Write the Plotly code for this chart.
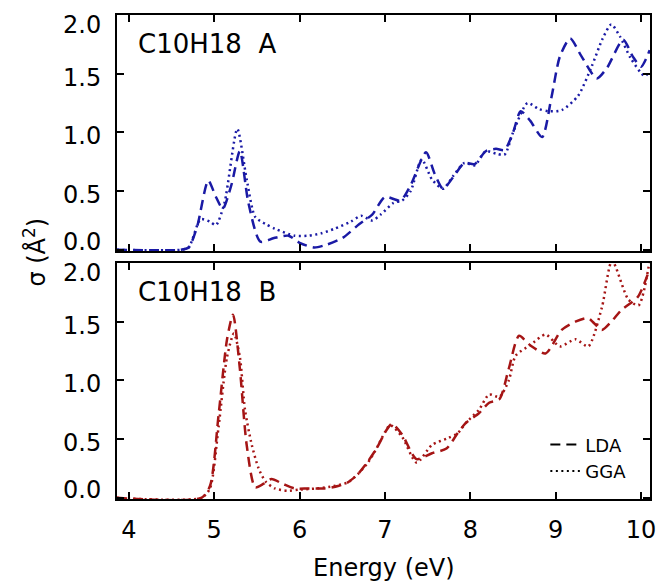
import plotly.graph_objects as go

# ---- Data ----
# Panel A (top, blue)
eA_lda = [3.86, 4.6, 4.7, 4.8, 4.93, 5.02, 5.1, 5.2, 5.3, 5.4, 5.54, 5.7, 5.87, 6.0, 6.17, 6.3, 6.5,
          6.7, 6.85, 7.0, 7.18, 7.3, 7.48, 7.58, 7.68, 7.8, 7.93, 8.05, 8.18, 8.3, 8.4, 8.5, 8.59,
          8.7, 8.84, 8.95, 9.05, 9.17, 9.3, 9.48, 9.6, 9.79, 9.9, 10.0, 10.1]
sA_lda = [0, 0, 0.02, 0.2, 0.59, 0.45, 0.35, 0.55, 0.84, 0.4, 0.07, 0.1, 0.12, 0.06, 0.02, 0.04, 0.1,
          0.22, 0.3, 0.45, 0.42, 0.55, 0.83, 0.65, 0.52, 0.62, 0.74, 0.73, 0.84, 0.86, 0.85, 1.0, 1.18,
          1.1, 0.96, 1.3, 1.65, 1.80, 1.65, 1.46, 1.55, 1.79, 1.65, 1.56, 1.70]

eA_gga = [3.86, 4.6, 4.7, 4.84, 4.95, 5.02, 5.12, 5.27, 5.38, 5.48, 5.6, 5.71, 5.94, 6.1, 6.25, 6.41,
          6.6, 6.72, 6.85, 6.95, 7.1, 7.2, 7.3, 7.43, 7.55, 7.68, 7.8, 7.93, 8.05, 8.18, 8.3, 8.4, 8.5,
          8.67, 8.8, 8.92, 9.07, 9.26, 9.42, 9.55, 9.65, 9.75, 9.88, 10.04, 10.1]
sA_gga = [0, 0, 0.02, 0.26, 0.24, 0.21, 0.4, 1.03, 0.6, 0.28, 0.22, 0.18, 0.12, 0.12, 0.14, 0.18,
          0.24, 0.29, 0.25, 0.3, 0.4, 0.42, 0.5, 0.77, 0.6, 0.52, 0.63, 0.74, 0.72, 0.84, 0.82, 0.81, 1.0,
          1.25, 1.2, 1.18, 1.19, 1.31, 1.56, 1.8, 1.92, 1.82, 1.63, 1.48, 1.52]

# Panel B (bottom, red)
eB_lda = [3.86, 4.85, 4.95, 5.05, 5.15, 5.22, 5.3, 5.38, 5.48, 5.58, 5.67, 5.8, 5.94, 6.1, 6.29, 6.45,
          6.56, 6.68, 6.79, 6.9, 7.02, 7.08, 7.2, 7.37, 7.55, 7.72, 7.85, 7.95, 8.1, 8.22, 8.34, 8.45,
          8.57, 8.7, 8.88, 9.07, 9.23, 9.38, 9.54, 9.65, 9.77, 9.96, 10.1]
sB_lda = [0, 0, 0.1, 0.7, 1.35, 1.56, 1.1, 0.45, 0.09, 0.12, 0.16, 0.12, 0.08, 0.08, 0.08, 0.1,
          0.13, 0.2, 0.3, 0.42, 0.58, 0.63, 0.54, 0.33, 0.38, 0.42, 0.55, 0.64, 0.72, 0.81, 0.84, 1.1,
          1.38, 1.3, 1.23, 1.43, 1.50, 1.53, 1.43, 1.5, 1.6, 1.71, 1.95]

eB_gga = [3.86, 4.85, 4.95, 5.05, 5.15, 5.23, 5.3, 5.36, 5.44, 5.52, 5.6, 5.71, 5.86, 6.0, 6.2, 6.4,
          6.56, 6.68, 6.8, 6.9, 7.0, 7.06, 7.2, 7.37, 7.55, 7.74, 7.85, 7.95, 8.1, 8.22, 8.34, 8.45,
          8.53, 8.7, 8.88, 9.05, 9.23, 9.38, 9.54, 9.66, 9.85, 9.97, 10.1]
sB_gga = [0, 0, 0.08, 0.6, 1.2, 1.40, 1.2, 0.75, 0.45, 0.25, 0.14, 0.08, 0.06, 0.07, 0.08, 0.1,
          0.13, 0.2, 0.3, 0.42, 0.56, 0.62, 0.52, 0.30, 0.45, 0.51, 0.55, 0.64, 0.75, 0.88, 0.86, 1.0,
          1.21, 1.3, 1.39, 1.29, 1.35, 1.29, 1.62, 2.02, 1.69, 1.64, 2.02]

panel_labels = ["C10H18  A", "C10H18  B"]
legend_names = ["LDA", "GGA"]
x_ticks = [4, 5, 6, 7, 8, 9, 10]
y_ticks = [0.0, 0.5, 1.0, 1.5, 2.0]

BLUE = "#1a1aa5"
RED = "#a51515"
DASH = "10px,6px"
DOT = "2px,3.5px"
FONT = "DejaVu Sans"
LW = 2.5

fig = go.Figure()

def add(e, s, color, dash, xa, ya):
    fig.add_trace(go.Scatter(x=e, y=s, mode="lines", xaxis=xa, yaxis=ya, showlegend=False,
                             line=dict(color=color, dash=dash, width=LW, shape="spline", smoothing=0.7),
                             hoverinfo="skip"))

add(eA_lda, sA_lda, BLUE, DASH, "x2", "y2")
add(eA_gga, sA_gga, BLUE, DOT, "x2", "y2")
add(eB_lda, sB_lda, RED, DASH, "x", "y")
add(eB_gga, sB_gga, RED, DOT, "x", "y")

# legend entries (black samples)
for name, dash in zip(legend_names, [DASH, DOT]):
    fig.add_trace(go.Scatter(x=[None], y=[None], mode="lines", name=name, xaxis="x", yaxis="y",
                             line=dict(color="black", dash=dash, width=2)))

xr = [3.861, 10.104]
yr = [-0.01, 2.0]
axis_common = dict(showline=True, linecolor="black", linewidth=2, mirror="ticks", ticks="inside",
                   ticklen=7, tickwidth=2, tickcolor="black", showgrid=False, zeroline=False,
                   tickfont=dict(family=FONT, size=24, color="black"))

fig.update_layout(
    width=663, height=582,
    margin=dict(l=117, r=7, t=15, b=83),
    paper_bgcolor="white", plot_bgcolor="white",
    xaxis=dict(domain=[0, 1], range=xr, tickvals=x_ticks, ticklabelstandoff=8, anchor="y", **axis_common),
    xaxis2=dict(domain=[0, 1], range=xr, tickvals=x_ticks, showticklabels=False, anchor="y2",
                matches="x", **axis_common),
    yaxis=dict(domain=[0, 0.4876], range=yr, tickvals=y_ticks, showticklabels=False, anchor="x",
               **axis_common),
    yaxis2=dict(domain=[0.5124, 1], range=yr, tickvals=y_ticks, showticklabels=False, anchor="x2",
                **axis_common),
    showlegend=True,
    legend=dict(x=0.965, y=0.02, xanchor="right", yanchor="bottom", bgcolor="rgba(0,0,0,0)",
                font=dict(family=FONT, size=18, color="black"), tracegroupgap=0, itemwidth=30),
    font=dict(family=FONT, color="black"),
)

# y tick labels (end labels nudged inward as in the reference)
for yref in ["y", "y2"]:
    for v in y_ticks:
        if v == y_ticks[0]:
            shift = 8
        elif v == y_ticks[-1]:
            shift = -10
        else:
            shift = -4
        fig.add_annotation(text=f"{v:.1f}", xref="paper", yref=yref, x=-0.026, y=v,
                           xanchor="right", yanchor="middle", yshift=shift, showarrow=False,
                           font=dict(family=FONT, size=24, color="black"))

fig.add_annotation(text=panel_labels[0], xref="paper", yref="paper", x=0.035, y=0.94,
                   xanchor="left", yanchor="middle", showarrow=False,
                   font=dict(family=FONT, size=26, color="black"))
fig.add_annotation(text=panel_labels[1], xref="paper", yref="paper", x=0.035, y=0.427,
                   xanchor="left", yanchor="middle", showarrow=False,
                   font=dict(family=FONT, size=26, color="black"))
fig.add_annotation(text="σ (Å<sup>2</sup>)", xref="paper", yref="paper", x=-0.153, y=0.51,
                   xanchor="center", yanchor="middle", textangle=-90, showarrow=False,
                   font=dict(family=FONT, size=24, color="black"))
fig.add_annotation(text="Energy (eV)", xref="paper", yref="paper", x=0.5, y=-0.143,
                   xanchor="center", yanchor="middle", showarrow=False,
                   font=dict(family=FONT, size=24, color="black"))

fig.write_html("out.html")
